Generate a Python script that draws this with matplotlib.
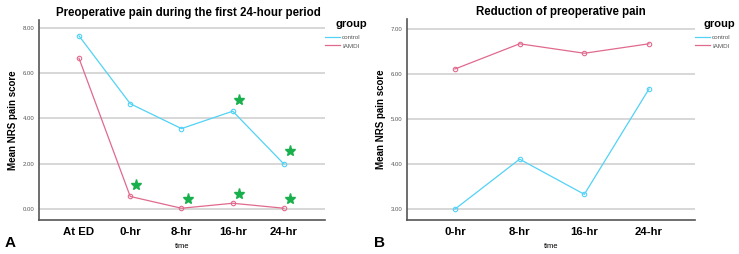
import matplotlib
matplotlib.use("Agg")
import matplotlib.pyplot as plt
from matplotlib.lines import Line2D

plt.rcParams['font.family'] = ['Liberation Sans', 'DejaVu Sans']

# Panel A data
cats_a = ["At ED", "0-hr", "8-hr", "16-hr", "24-hr"]
control_a = [7.65, 4.65, 3.55, 4.32, 1.98]
iamdi_a = [6.66, 0.55, 0.03, 0.25, 0.03]
yticks_a = [0, 2, 4, 6, 8]
# significance stars (category index, value)
stars_a_x = [1, 2, 3, 4, 3, 4]
stars_a_y = [1.05, 0.45, 0.68, 0.45, 4.82, 2.58]

# Panel B data
cats_b = ["0-hr", "8-hr", "16-hr", "24-hr"]
control_b = [3.00, 4.11, 3.33, 5.67]
iamdi_b = [6.11, 6.67, 6.46, 6.67]
yticks_b = [3, 4, 5, 6, 7]

groups = ["control", "IAMDI"]

C_CTRL = '#52d2f6'
C_IAM = '#e06a8e'
GRID = '#d4d4d4'
SPINE = '#555555'
W, H = 739, 254

fig = plt.figure(figsize=(7.39, 2.54), dpi=100)
axA = fig.add_axes([39/W, 1-220/H, 286/W, 200/H])
axB = fig.add_axes([407/W, 1-220/H, 288/W, 201/H])


def style(ax, cats, yticks, ylim, xlim, title, title_x, leg_x, grp_x):
    ax.set_ylim(*ylim)
    ax.set_xlim(*xlim)
    ax.set_yticks(yticks)
    ax.set_yticklabels([f"{v:.2f}" for v in yticks], fontsize=4.3, color='#555555')
    ax.set_xticks(range(len(cats)))
    ax.set_xticklabels(cats, fontsize=8.2, fontweight='bold')
    ax.tick_params(axis='both', length=0)
    ax.tick_params(axis='y', pad=3)
    ax.tick_params(axis='x', pad=5)
    ax.grid(axis='y', color=GRID, linewidth=1.3)
    ax.set_axisbelow(True)
    for s in ['top', 'right']:
        ax.spines[s].set_visible(False)
    for s in ['left', 'bottom']:
        ax.spines[s].set_color(SPINE)
        ax.spines[s].set_linewidth(1.2)
    ax.set_xlabel("time", fontsize=5.5, labelpad=4)
    ax.set_ylabel("Mean NRS pain score", fontsize=7, fontweight='bold', labelpad=4)
    ax.set_title(title, fontsize=8.3, fontweight='bold', pad=3, x=title_x)
    handles = [Line2D([0], [0], color=C_CTRL, lw=0.9), Line2D([0], [0], color=C_IAM, lw=0.9)]
    leg = ax.legend(handles, groups, loc='upper left',
                    bbox_to_anchor=(leg_x/W, 1-35/H), bbox_transform=fig.transFigure,
                    frameon=False, fontsize=4.5, borderpad=0, borderaxespad=0,
                    handlelength=2.4, handletextpad=0.35, labelspacing=0.45)
    for t in leg.get_texts():
        t.set_color('#555555')
    fig.text(grp_x/W, 1-24/H, "group", fontsize=8, fontweight='bold', va='center', ha='left')


xa = list(range(len(cats_a)))
axA.plot(xa, control_a, color=C_CTRL, lw=0.9, marker='o', ms=3.2, mfc='none', mec=C_CTRL, mew=0.8)
axA.plot(xa, iamdi_a, color=C_IAM, lw=0.9, marker='o', ms=3.2, mfc='none', mec=C_IAM, mew=0.8)
axA.plot([x + 0.12 for x in stars_a_x], stars_a_y, linestyle='none', marker='*', ms=8,
         color='#18b04c')
style(axA, cats_a, yticks_a, (-0.49, 8.35), (-0.78, 4.8),
      "Preoperative pain during the first 24-hour period", 0.521, 325, 335)

xb = list(range(len(cats_b)))
axB.plot(xb, control_b, color=C_CTRL, lw=0.9, marker='o', ms=3.2, mfc='none', mec=C_CTRL, mew=0.8)
axB.plot(xb, iamdi_b, color=C_IAM, lw=0.9, marker='o', ms=3.2, mfc='none', mec=C_IAM, mew=0.8)
style(axB, cats_b, yticks_b, (2.76, 7.22), (-0.74, 3.71), "Reduction of preoperative pain",
      0.535, 695, 703)

fig.text(10/W, 1-243/H, "A", fontsize=11, fontweight='bold', va='center', ha='center')
fig.text(380/W, 1-243/H, "B", fontsize=11, fontweight='bold', va='center', ha='center')

fig.savefig("out.png", dpi=100)
